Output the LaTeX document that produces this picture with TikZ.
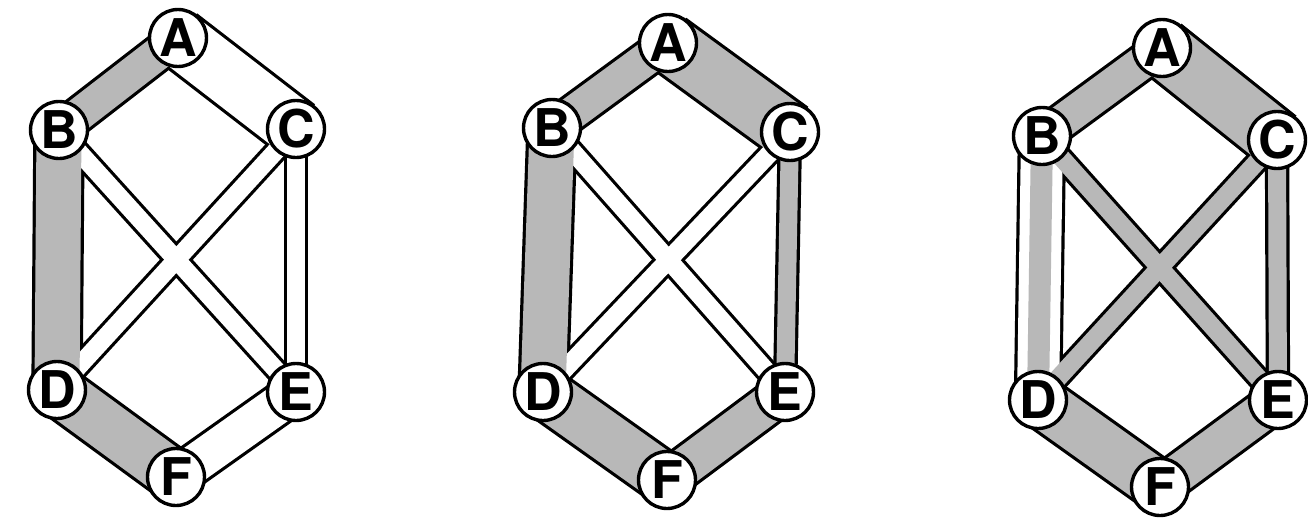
\documentclass[tikz,border=0pt]{standalone}
\usepackage{fontspec}
\setsansfont{TeX Gyre Heros}
\definecolor{stip}{gray}{0.72}
\pgfdeclarelayer{bgline}
\pgfdeclarelayer{bgwhite}
\pgfdeclarelayer{bggray}
\pgfsetlayers{bgline,bgwhite,bggray,main}
\newcommand\bandline[3]{\begin{pgfonlayer}{bgline}\draw[black,line width={(#3)*0.5pt+3.2pt}] (#1.center)--(#2.center);\end{pgfonlayer}}
\newcommand\wband[3]{\bandline{#1}{#2}{#3}\begin{pgfonlayer}{bgwhite}\draw[white,line width={(#3)*0.5pt}] (#1.center)--(#2.center);\end{pgfonlayer}}
\newcommand\gband[3]{\bandline{#1}{#2}{#3}\begin{pgfonlayer}{bggray}\draw[stip,line width={(#3)*0.5pt}] (#1.center)--(#2.center);\end{pgfonlayer}}
\newcommand\gstrip[3]{\begin{pgfonlayer}{bggray}\draw[stip,line width={(#3)*0.5pt}] (#1.center)--(#2.center);\end{pgfonlayer}}
\begin{document}
\begin{tikzpicture}[x=0.5pt,y=-0.5pt,
  vtx/.style={circle, draw=black, line width=1.7pt, fill=white, minimum size=28.5pt, inner sep=0pt,
    font=\sffamily\bfseries\fontsize{26}{26}\selectfont}]
\useasboundingbox (0,0) rectangle (1308,525);
% ---------- graph 1 ----------
\node[vtx] (A1) at (178,38) {A};
\node[vtx] (B1) at (59,130) {B};
\node[vtx] (C1) at (296,129) {C};
\node[vtx] (D1) at (57,390) {D};
\node[vtx] (E1) at (296,392) {E};
\node[vtx] (F1) at (176,477) {F};
\gband{A1}{B1}{33}
\wband{A1}{C1}{56}
\gband{B1}{D1}{45}
\wband{B1}{E1}{18}
\wband{C1}{D1}{18}
\wband{C1}{E1}{18}
\gband{D1}{F1}{49}
\wband{E1}{F1}{38}
% ---------- graph 2 ----------
\node[vtx] (A2) at (668,43) {A};
\node[vtx] (B2) at (552,128) {B};
\node[vtx] (C2) at (790,132) {C};
\node[vtx] (D2) at (543,392) {D};
\node[vtx] (E2) at (785,392) {E};
\node[vtx] (F2) at (667,480) {F};
\gband{A2}{B2}{33}
\gband{A2}{C2}{56}
\gband{B2}{D2}{45}
\wband{B2}{E2}{18}
\wband{C2}{D2}{18}
\gband{C2}{E2}{18}
\gband{D2}{F2}{49}
\gband{E2}{F2}{38}
% ---------- graph 3 ----------
\node[vtx] (A3) at (1162,48) {A};
\node[vtx] (B3) at (1042,136) {B};
\node[vtx] (C3) at (1277,140) {C};
\node[vtx] (D3) at (1038,400) {D};
\node[vtx] (E3) at (1278,400) {E};
\node[vtx] (F3) at (1160,487) {F};
\gband{A3}{B3}{33}
\gband{A3}{C3}{56}
\wband{B3}{D3}{42}
\gstrip{B3}{D3}{22}
\gband{B3}{E3}{18}
\gband{C3}{D3}{18}
\gband{C3}{E3}{18}
\gband{D3}{F3}{49}
\gband{E3}{F3}{38}
\end{tikzpicture}
\end{document}
